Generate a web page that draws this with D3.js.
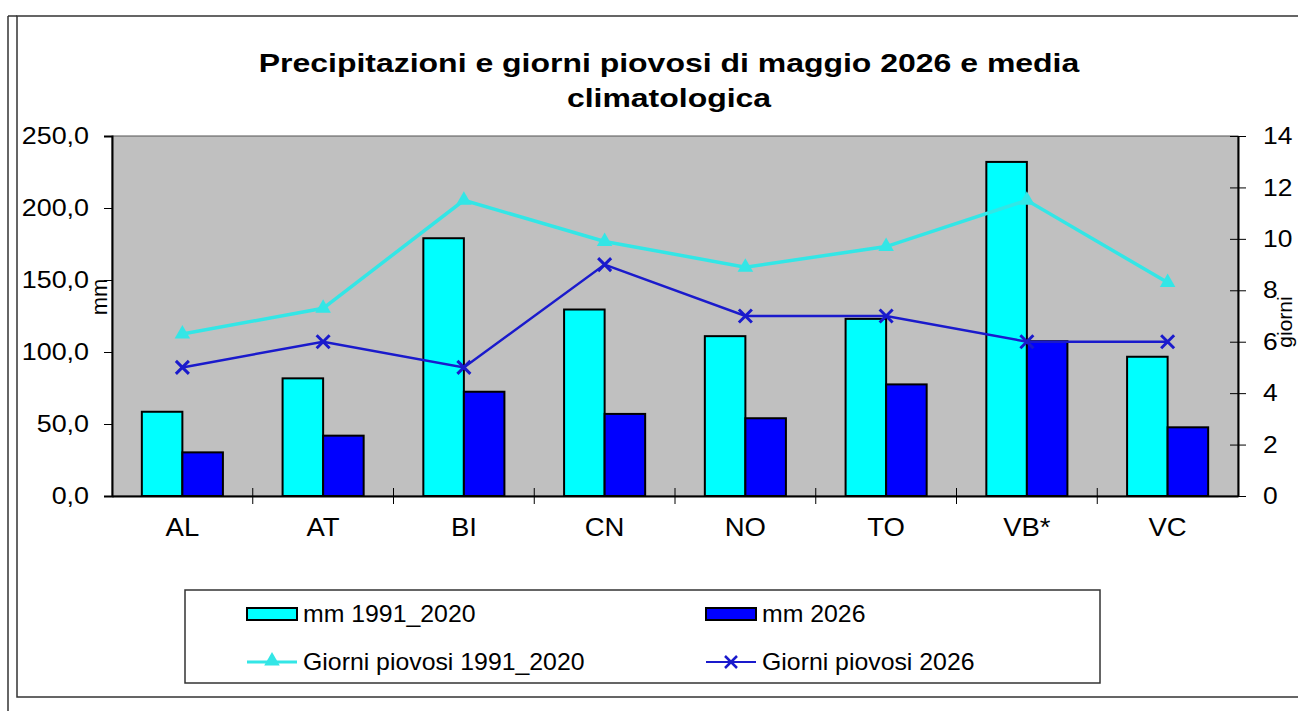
<!DOCTYPE html>
<html>
<head>
<meta charset="utf-8">
<script src="https://cdn.jsdelivr.net/npm/d3@7"></script>
<style>
body { margin: 0; background: #fff; }
svg { display: block; font-family: "Liberation Sans", Arial, sans-serif; }
</style>
</head>
<body>
<div id="chart"></div>
<script>
var width = 1298;
var height = 711;

var categories = ['AL', 'AT', 'BI', 'CN', 'NO', 'TO', 'VB*', 'VC'];
var mmClima = [58.5, 81.7, 179.0, 129.5, 111.0, 123.0, 232.0, 96.7];
var mm2026 = [30.3, 41.9, 72.4, 57.0, 54.0, 77.5, 107.5, 47.7];
var giorniClima = [6.3, 7.3, 11.5, 9.9, 8.9, 9.7, 11.5, 8.3];
var giorni2026 = [5, 6, 5, 9, 7, 7, 6, 6];
var leftTicks = [0, 50, 100, 150, 200, 250];
var rightTicks = [0, 2, 4, 6, 8, 10, 12, 14];

var plot = {left: 112, top: 136, right: 1238, bottom: 496};

// il grafico originale e' un po' allargato in orizzontale
var stretchText = function(sel, sx){
	sel.each(function(){
		var t = d3.select(this);
		var x0 = +t.attr('x') || 0;
		var y0 = +t.attr('y') || 0;
		t.attr('x', 0).attr('y', 0)
			.attr('transform', 'translate(' + x0 + ',' + y0 + ') scale(' + sx + ',1)');
	});
};

var svg = d3.select('#chart')
	.append('svg')
	.attr('width', width)
	.attr('height', height);

// cornici esterne
svg.append('line')
	.attr('x1', 8).attr('y1', 16).attr('x2', 8).attr('y2', height)
	.attr('stroke', '#333').attr('stroke-width', 1.5);
svg.append('rect')
	.attr('x', 17).attr('y', 16)
	.attr('width', width + 10).attr('height', 697 - 16)
	.attr('fill', '#fff')
	.attr('stroke', '#333').attr('stroke-width', 1.5);
svg.append('line')
	.attr('x1', 8).attr('y1', 16).attr('x2', 17).attr('y2', 16)
	.attr('stroke', '#333').attr('stroke-width', 1.5);

var x = d3.scaleBand()
	.domain(categories)
	.range([plot.left, plot.right]);

var yLeft = d3.scaleLinear()
	.domain([0, 250])
	.range([plot.bottom, plot.top]);

var yRight = d3.scaleLinear()
	.domain([0, 14])
	.range([plot.bottom, plot.top]);

var barWidth = x.bandwidth() * 0.288;

// sfondo area grafico
svg.append('rect')
	.attr('x', plot.left)
	.attr('y', plot.top)
	.attr('width', plot.right - plot.left)
	.attr('height', plot.bottom - plot.top)
	.attr('fill', '#c0c0c0')
	.attr('stroke', '#555')
	.attr('stroke-width', 1);

// titolo
svg.append('text')
	.attr('x', 669)
	.attr('y', 72)
	.attr('text-anchor', 'middle')
	.style('font-size', '26px')
	.style('font-weight', 'bold')
	.text('Precipitazioni e giorni piovosi di maggio 2026 e media')
	.call(stretchText, 1.23);
svg.append('text')
	.attr('x', 669)
	.attr('y', 107)
	.attr('text-anchor', 'middle')
	.style('font-size', '26px')
	.style('font-weight', 'bold')
	.text('climatologica')
	.call(stretchText, 1.23);

// barre
svg.append('g')
	.selectAll('rect')
	.data(categories)
	.enter()
	.append('rect')
	.attr('x', function(d){ return x(d) + x.bandwidth() / 2 - barWidth; })
	.attr('y', function(d, i){ return yLeft(mmClima[i]); })
	.attr('width', barWidth)
	.attr('height', function(d, i){ return plot.bottom - yLeft(mmClima[i]); })
	.attr('fill', '#00ffff')
	.attr('stroke', '#000')
	.attr('stroke-width', 2);

svg.append('g')
	.selectAll('rect')
	.data(categories)
	.enter()
	.append('rect')
	.attr('x', function(d){ return x(d) + x.bandwidth() / 2; })
	.attr('y', function(d, i){ return yLeft(mm2026[i]); })
	.attr('width', barWidth)
	.attr('height', function(d, i){ return plot.bottom - yLeft(mm2026[i]); })
	.attr('fill', '#0000ff')
	.attr('stroke', '#000')
	.attr('stroke-width', 2);

// assi
var leftAxis = d3.axisLeft(yLeft)
	.tickValues(leftTicks)
	.tickSize(8)
	.tickPadding(15)
	.tickFormat(function(d){ return d3.format('.1f')(d).replace('.', ','); });

var gLeft = svg.append('g')
	.attr('transform', 'translate(' + plot.left + ',0)')
	.call(leftAxis);

var rightAxis = d3.axisRight(yRight)
	.tickValues(rightTicks)
	.tickSizeInner(8)
	.tickSizeOuter(0)
	.tickPadding(17)
	.tickFormat(d3.format('d'));

var gRight = svg.append('g')
	.attr('transform', 'translate(' + plot.right + ',0)')
	.call(rightAxis);
gRight.selectAll('.tick line').attr('x1', -8);

var bottomAxis = d3.axisBottom(x)
	.tickSize(0)
	.tickPadding(22);

var gBottom = svg.append('g')
	.attr('transform', 'translate(0,' + plot.bottom + ')')
	.call(bottomAxis);

// tacche tra le categorie
gBottom.selectAll('.sep')
	.data(d3.range(1, categories.length))
	.enter()
	.append('line')
	.attr('x1', function(d){ return plot.left + x.step() * d; })
	.attr('x2', function(d){ return plot.left + x.step() * d; })
	.attr('y1', -8)
	.attr('y2', 8)
	.attr('stroke', '#000')
	.attr('stroke-width', 1);

[gLeft, gRight, gBottom].forEach(function(g){
	g.select('.domain').attr('stroke', '#000').attr('stroke-width', 2);
	g.selectAll('.tick line').attr('stroke', '#000').attr('stroke-width', 1);
	g.selectAll('text')
		.attr('fill', '#000')
		.style('font-size', '24px')
		.style('font-family', '"Liberation Sans", Arial, sans-serif');
});
gLeft.selectAll('.tick text').call(stretchText, 1.12);
gRight.selectAll('.tick text').call(stretchText, 1.1);
gBottom.selectAll('.tick text').style('font-size', '25px').call(stretchText, 1.1);

// titoli assi
svg.append('text')
	.attr('transform', 'translate(107,297) rotate(-90)')
	.attr('text-anchor', 'middle')
	.style('font-size', '22px')
	.text('mm');
svg.append('text')
	.attr('transform', 'translate(1292,322) rotate(-90)')
	.attr('text-anchor', 'middle')
	.style('font-size', '21px')
	.text('giorni');

// linee giorni piovosi
var cx = function(d){ return x(d) + x.bandwidth() / 2; };

var lineClima = d3.line()
	.x(function(d){ return cx(d); })
	.y(function(d, i){ return yRight(giorniClima[i]); });

var line2026 = d3.line()
	.x(function(d){ return cx(d); })
	.y(function(d, i){ return yRight(giorni2026[i]); });

svg.append('path')
	.datum(categories)
	.attr('d', lineClima)
	.attr('fill', 'none')
	.attr('stroke', '#33e6e6')
	.attr('stroke-width', 3.5);

svg.append('path')
	.datum(categories)
	.attr('d', line2026)
	.attr('fill', 'none')
	.attr('stroke', '#1a1acc')
	.attr('stroke-width', 2.5);

var triangle = d3.symbol().type(d3.symbolTriangle).size(105);

svg.append('g')
	.selectAll('path')
	.data(categories)
	.enter()
	.append('path')
	.attr('transform', function(d, i){ return 'translate(' + cx(d) + ',' + yRight(giorniClima[i]) + ')'; })
	.attr('d', triangle)
	.attr('fill', '#33e6e6');

var crossSize = 6.5;
svg.append('g')
	.selectAll('path')
	.data(categories)
	.enter()
	.append('path')
	.attr('transform', function(d, i){ return 'translate(' + cx(d) + ',' + yRight(giorni2026[i]) + ')'; })
	.attr('d', 'M' + (-crossSize) + ',' + (-crossSize) + 'L' + crossSize + ',' + crossSize +
		'M' + (-crossSize) + ',' + crossSize + 'L' + crossSize + ',' + (-crossSize))
	.attr('stroke', '#1a1acc')
	.attr('stroke-width', 3)
	.attr('fill', 'none');

// legenda
var legendItems = [
	{label: 'mm 1991_2020', type: 'bar', color: '#00ffff', col: 0, row: 0},
	{label: 'mm 2026', type: 'bar', color: '#0000ff', col: 1, row: 0},
	{label: 'Giorni piovosi 1991_2020', type: 'triangle', color: '#33e6e6', col: 0, row: 1},
	{label: 'Giorni piovosi 2026', type: 'cross', color: '#1a1acc', col: 1, row: 1}
];

svg.append('rect')
	.attr('x', 185).attr('y', 590)
	.attr('width', 1100 - 185).attr('height', 683 - 590)
	.attr('fill', '#fff')
	.attr('stroke', '#333')
	.attr('stroke-width', 1.5);

var legend = svg.append('g')
	.selectAll('g')
	.data(legendItems)
	.enter()
	.append('g')
	.attr('transform', function(d){ return 'translate(' + (247 + d.col * 459) + ',' + (614 + d.row * 48) + ')'; });

legend.each(function(d){
	var g = d3.select(this);
	if(d.type === 'bar'){
		g.append('rect')
			.attr('x', 0).attr('y', -6)
			.attr('width', 50).attr('height', 12)
			.attr('fill', d.color)
			.attr('stroke', '#000')
			.attr('stroke-width', 2);
	}else{
		g.append('line')
			.attr('x1', 0).attr('x2', 50)
			.attr('y1', 0).attr('y2', 0)
			.attr('stroke', d.color)
			.attr('stroke-width', d.type === 'triangle' ? 3 : 2);
		if(d.type === 'triangle'){
			g.append('path')
				.attr('transform', 'translate(25,-1)')
				.attr('d', triangle)
				.attr('fill', d.color);
		}else{
			g.append('path')
				.attr('transform', 'translate(25,0)')
				.attr('d', 'M-6,-6L6,6M-6,6L6,-6')
				.attr('stroke', d.color)
				.attr('stroke-width', 2.5);
		}
	}
	g.append('text')
		.attr('x', 56)
		.attr('y', 0)
		.attr('dy', '0.35em')
		.style('font-size', '23px')
		.text(d.label)
		.call(stretchText, 1.08);
});
</script>
</body>
</html>
